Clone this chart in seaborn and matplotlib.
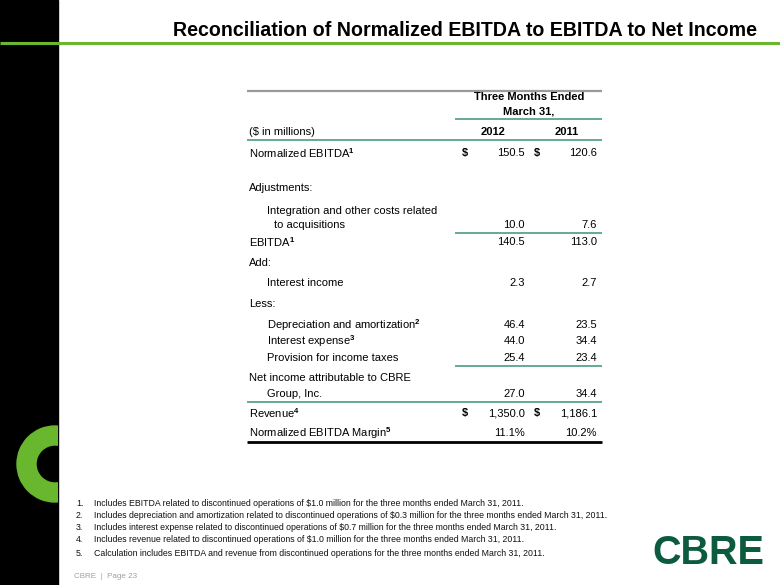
import matplotlib
matplotlib.use("Agg")
import matplotlib.pyplot as plt
import seaborn as sns
import pandas as pd
from matplotlib.patches import Rectangle, Wedge

# ---------------- data ----------------
title = "Reconciliation of Normalized EBITDA to EBITDA to Net Income"
header_lines = ["Three Months Ended", "March 31,"]
unit_label = "($ in millions)"
years = ["2012", "2011"]

row_labels = [
    "Normalized EBITDA$^{1}$",
    "Adjustments:",
    "Integration and other costs related",
    "to acquisitions",
    "EBITDA$^{1}$",
    "Add:",
    "Interest income",
    "Less:",
    "Depreciation and amortization$^{2}$",
    "Interest expense$^{3}$",
    "Provision for income taxes",
    "Net income attributable to CBRE",
    "Group, Inc.",
    "Revenue$^{4}$",
    "Normalized EBITDA Margin$^{5}$",
]
values_2012 = [150.5, None, None, 10.0, 140.5, None, 2.3, None, 46.4, 44.0, 25.4, None, 27.0, 1350.0, 11.1]
values_2011 = [120.6, None, None, 7.6, 113.0, None, 2.7, None, 23.5, 34.4, 23.4, None, 34.4, 1186.1, 10.2]
row_units = ["$", "", "", "", "", "", "", "", "", "", "", "", "", "$", "%"]

footnotes = [
    "Includes EBITDA related to discontinued operations of $1.0 million for the three months ended March 31, 2011.",
    "Includes depreciation and amortization related to discontinued operations of $0.3 million for the three months ended March 31, 2011.",
    "Includes interest expense related to discontinued operations of $0.7 million for the three months ended March 31, 2011.",
    "Includes revenue related to discontinued operations of $1.0 million for the three months ended March 31, 2011.",
    "Calculation includes EBITDA and revenue from discontinued operations for the three months ended March 31, 2011.",
]
page_label = "CBRE  |  Page 23"
logo_text = "CBRE"

# ---------------- layout ----------------
row_y = [153, 188, 211, 225, 242, 263, 283, 304, 325, 341, 358, 378, 394, 413, 433]
row_indent = [0, 0, 1, 2, 0, 0, 1, 0, 1, 1, 1, 0, 1, 0, 0]
indent_px = {0: 249, 1: 267, 2: 274}

sns.set_theme(style="white")
plt.rcParams["font.family"] = ["Liberation Sans", "DejaVu Sans"]
plt.rcParams["text.color"] = "black"
plt.rcParams["mathtext.fontset"] = "custom"
plt.rcParams["mathtext.rm"] = "Liberation Sans:bold"
plt.rcParams["mathtext.default"] = "rm"

GREEN = "#69b72e"
TEAL = "#3a927d"
DARK_GREEN = "#0d5b3e"

fig = plt.figure(figsize=(7.8, 5.85), dpi=100)
ax = fig.add_axes([0, 0, 1, 1])
ax.set_xlim(0, 780)
ax.set_ylim(585, 0)
ax.axis("off")

# left black band + green ring
ax.add_patch(Rectangle((0, 0), 58, 585, color="black", zorder=1))
clip = Rectangle((0, 0), 58, 585, transform=ax.transData)
ring = Wedge((55, 464), 38, 0, 360, width=19, color=GREEN, zorder=2)
ax.add_patch(ring)
ring.set_clip_path(clip)

# title and green rule
ax.text(757, 31, title, ha="right", va="center", fontsize=14.1, fontweight="bold", color="black")
ax.hlines(43, 0, 780, color=GREEN, lw=2.2, zorder=3)

# table rules
ax.hlines(91, 247, 602, color="#9a9a9a", lw=1.6)
for y, x0 in [(119, 455), (140, 247), (233, 455), (366, 455), (402, 247)]:
    ax.hlines(y, x0, 602, color=TEAL, lw=1.1)
ax.hlines(442, 247, 602, color="black", lw=2.0)

FS = 8.0
# header
ax.text(529, 97, header_lines[0], ha="center", va="center", fontsize=FS, fontweight="bold")
ax.text(529, 112, header_lines[1], ha="center", va="center", fontsize=FS, fontweight="bold")
ax.text(249, 132, unit_label, ha="left", va="center", fontsize=FS)
ax.text(493, 132, years[0], ha="center", va="center", fontsize=FS, fontweight="bold")
ax.text(567, 132, years[1], ha="center", va="center", fontsize=FS, fontweight="bold")


def fmt(v, unit):
    if v is None:
        return ""
    if unit == "%":
        return f"{v:.1f}%"
    return f"{v:,.1f}"


df = pd.DataFrame({"label": row_labels, "v2012": values_2012, "v2011": values_2011, "unit": row_units})
for i, r in df.iterrows():
    y = row_y[i]
    ax.text(indent_px[row_indent[i]], y, r["label"], ha="left", va="center", fontsize=FS)
    v12 = None if pd.isna(r["v2012"]) else r["v2012"]
    v11 = None if pd.isna(r["v2011"]) else r["v2011"]
    ax.text(525, y, fmt(v12, r["unit"]), ha="right", va="center", fontsize=FS)
    ax.text(597, y, fmt(v11, r["unit"]), ha="right", va="center", fontsize=FS)
    if r["unit"] == "$":
        ax.text(462, y, "$", ha="left", va="center", fontsize=FS, fontweight="bold")
        ax.text(534, y, "$", ha="left", va="center", fontsize=FS, fontweight="bold")

# footnotes
fn_y = [503, 516, 528, 540, 553]
for k, (t, y) in enumerate(zip(footnotes, fn_y)):
    ax.text(76, y, f"{k + 1}.", ha="left", va="center", fontsize=6.3, color="#111111")
    ax.text(94, y, t, ha="left", va="center", fontsize=6.3, color="#111111")

ax.text(74, 577, page_label, ha="left", va="center", fontsize=5.8, color="#a0a0a0")

# logo
ax.text(708, 553, logo_text, ha="center", va="center", fontsize=28.5, fontweight="bold",
        color=DARK_GREEN)

fig.savefig("out.png", dpi=100)
